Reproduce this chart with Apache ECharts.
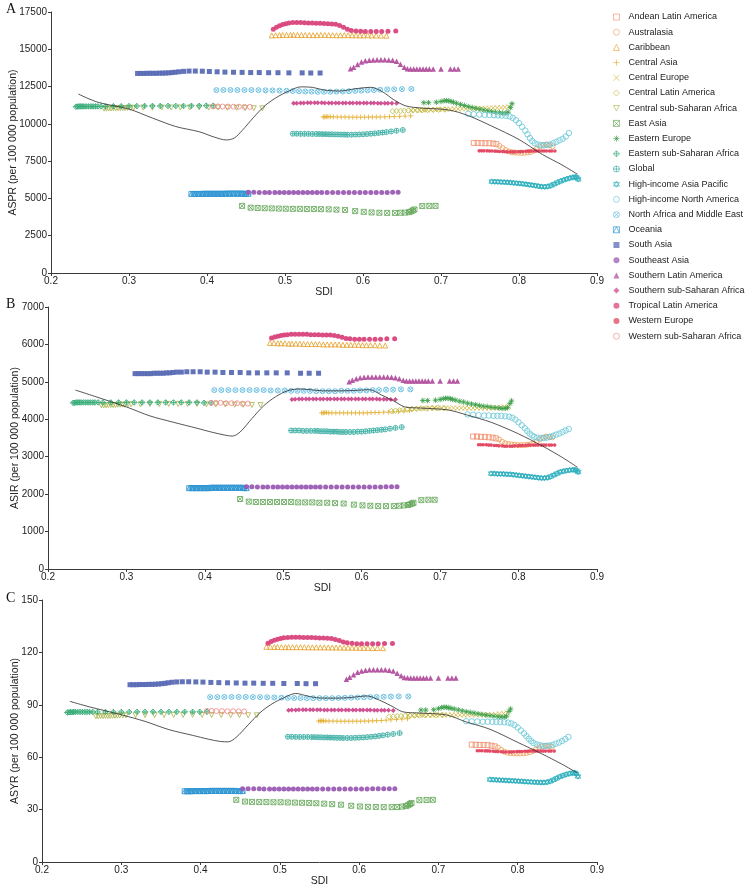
<!DOCTYPE html>
<html><head><meta charset="utf-8">
<script src="https://cdn.jsdelivr.net/npm/echarts@6/dist/echarts.min.js"></script>
<style>html,body{margin:0;padding:0;background:#fff}#c{width:750px;height:888px}</style>
</head><body><div id="c"></div>
<script>
const regions = ['Andean Latin America','Australasia','Caribbean','Central Asia','Central Europe','Central Latin America','Central sub-Saharan Africa','East Asia','Eastern Europe','Eastern sub-Saharan Africa','Global','High-income Asia Pacific','High-income North America','North Africa and Middle East','Oceania','South Asia','Southeast Asia','Southern Latin America','Southern sub-Saharan Africa','Tropical Latin America','Western Europe','Western sub-Saharan Africa'];

const SDI = [
[0.742,0.747,0.752,0.757,0.762,0.767,0.771],
[0.775,0.779,0.783,0.787,0.791,0.795,0.799,0.803,0.807,0.811,0.815,0.819,0.823,0.827,0.831,0.835,0.839,0.843],
[0.483,0.488,0.493,0.497,0.502,0.507,0.511,0.516,0.521,0.526,0.531,0.536,0.541,0.546,0.551,0.556,0.561,0.566,0.571,0.576,0.581,0.586,0.591,0.596,0.601,0.606,0.611,0.617,0.623,0.630],
[0.549,0.551,0.553,0.555,0.558,0.562,0.567,0.572,0.577,0.582,0.587,0.592,0.597,0.602,0.607,0.612,0.617,0.622,0.628,0.634,0.640,0.647,0.654,0.661],
[0.662,0.667,0.672,0.677,0.682,0.687,0.692,0.697,0.702,0.707,0.712,0.717,0.722,0.727,0.732,0.737,0.742,0.747,0.752,0.757,0.762,0.767,0.772,0.777,0.782,0.787],
[0.638,0.643,0.648,0.653,0.658,0.664,0.670,0.676,0.683,0.690,0.697,0.705],
[0.268,0.271,0.274,0.277,0.280,0.283,0.286,0.289,0.292,0.295,0.298,0.302,0.306,0.318,0.330,0.342,0.354,0.366,0.378,0.390,0.402,0.414,0.426,0.438,0.449,0.460,0.471],
[0.445,0.456,0.465,0.474,0.483,0.492,0.501,0.510,0.519,0.528,0.537,0.546,0.556,0.566,0.577,0.590,0.601,0.611,0.621,0.631,0.641,0.648,0.654,0.659,0.662,0.664,0.666,0.676,0.685,0.693],
[0.678,0.684,0.694,0.700,0.704,0.707,0.710,0.713,0.716,0.720,0.725,0.730,0.735,0.740,0.745,0.750,0.755,0.760,0.765,0.770,0.775,0.779,0.783,0.786,0.789,0.791],
[0.232,0.234,0.236,0.238,0.240,0.242,0.245,0.248,0.251,0.254,0.257,0.260,0.264,0.270,0.280,0.290,0.300,0.310,0.320,0.330,0.340,0.350,0.360,0.370,0.380,0.390,0.399,0.408],
[0.510,0.515,0.520,0.525,0.530,0.535,0.540,0.544,0.548,0.552,0.556,0.560,0.564,0.568,0.572,0.576,0.580,0.585,0.590,0.595,0.600,0.605,0.610,0.615,0.620,0.625,0.630,0.636,0.643,0.651],
[0.765,0.769,0.773,0.777,0.781,0.785,0.789,0.793,0.797,0.801,0.805,0.809,0.813,0.817,0.821,0.825,0.829,0.833,0.837,0.841,0.845,0.849,0.853,0.857,0.861,0.865,0.869,0.872,0.874,0.876],
[0.735,0.742,0.749,0.756,0.762,0.768,0.773,0.778,0.783,0.788,0.792,0.796,0.800,0.804,0.808,0.811,0.814,0.817,0.820,0.824,0.828,0.832,0.836,0.840,0.844,0.848,0.852,0.856,0.860,0.864],
[0.412,0.421,0.430,0.439,0.448,0.457,0.466,0.475,0.484,0.493,0.502,0.510,0.518,0.526,0.534,0.542,0.550,0.558,0.566,0.574,0.582,0.590,0.598,0.606,0.614,0.622,0.631,0.640,0.650,0.662],
[0.380,0.383,0.385,0.388,0.390,0.393,0.395,0.398,0.400,0.403,0.405,0.408,0.410,0.413,0.415,0.418,0.420,0.423,0.425,0.428,0.430,0.433,0.435,0.438,0.440,0.443,0.445,0.448,0.450,0.453],
[0.311,0.315,0.319,0.323,0.327,0.331,0.335,0.339,0.343,0.347,0.351,0.355,0.359,0.364,0.370,0.377,0.385,0.394,0.403,0.413,0.423,0.434,0.445,0.456,0.467,0.479,0.491,0.505,0.522,0.533,0.545],
[0.453,0.460,0.467,0.474,0.480,0.487,0.493,0.499,0.505,0.511,0.517,0.523,0.529,0.535,0.541,0.547,0.554,0.561,0.568,0.575,0.582,0.589,0.596,0.603,0.610,0.617,0.624,0.631,0.638,0.645],
[0.584,0.588,0.593,0.598,0.603,0.608,0.613,0.618,0.623,0.628,0.633,0.638,0.643,0.648,0.653,0.657,0.661,0.665,0.669,0.673,0.677,0.681,0.685,0.690,0.700,0.712,0.717,0.722],
[0.511,0.515,0.520,0.524,0.529,0.533,0.538,0.542,0.547,0.551,0.556,0.560,0.565,0.569,0.574,0.578,0.583,0.587,0.592,0.596,0.601,0.605,0.610,0.614,0.619,0.623,0.628,0.632,0.637,0.643],
[0.485,0.489,0.493,0.497,0.501,0.505,0.510,0.515,0.520,0.525,0.530,0.535,0.540,0.545,0.550,0.555,0.560,0.565,0.570,0.575,0.580,0.585,0.591,0.597,0.603,0.610,0.617,0.624,0.632,0.642],
[0.749,0.752,0.755,0.759,0.762,0.765,0.769,0.772,0.775,0.779,0.782,0.785,0.789,0.792,0.795,0.799,0.802,0.805,0.809,0.812,0.815,0.819,0.822,0.825,0.829,0.832,0.835,0.839,0.842,0.846],
[0.408,0.414,0.420,0.427,0.434,0.441,0.448,0.455]
];

const ASPR = [
[8720,8720,8710,8700,8700,8680,8640],
[8520,8380,8240,8150,8100,8080,8060,8050,8060,8080,8120,8200,8330,8480,8580,8620,8560,8500],
[15930,15940,15950,15960,15960,15970,15970,15960,15960,15960,15950,15950,15950,15960,15960,15950,15950,15940,15940,15950,15950,15940,15940,15930,15930,15940,15930,15920,15920,15910],
[10460,10470,10480,10480,10470,10470,10460,10460,10460,10450,10450,10450,10450,10450,10450,10460,10460,10460,10470,10480,10490,10500,10520,10540],
[10900,10910,10920,10930,10940,10950,10960,10970,10980,10990,10990,11000,11000,11010,11010,11020,11020,11030,11040,11050,11060,11070,11080,11090,11110,11130],
[10850,10860,10870,10880,10890,10900,10910,10920,10930,10940,10950,10960],
[11020,11020,11030,11030,11040,11040,11050,11050,11060,11060,11070,11070,11080,11090,11090,11100,11100,11100,11100,11100,11100,11090,11080,11070,11060,11050,11040],
[4500,4380,4360,4340,4330,4320,4310,4300,4300,4290,4290,4280,4270,4250,4230,4150,4100,4060,4040,4030,4030,4040,4050,4080,4130,4200,4260,4490,4500,4500],
[11420,11420,11450,11500,11550,11560,11540,11500,11450,11380,11300,11230,11160,11100,11040,10980,10920,10870,10820,10780,10750,10720,10720,10780,11100,11350],
[11150,11160,11170,11170,11170,11170,11170,11170,11170,11170,11170,11170,11170,11170,11180,11180,11190,11190,11200,11200,11200,11200,11200,11200,11210,11210,11220,11220],
[9340,9340,9330,9330,9330,9320,9320,9320,9310,9310,9300,9300,9290,9290,9280,9280,9270,9270,9280,9290,9300,9320,9340,9360,9390,9420,9450,9490,9540,9590],
[6130,6120,6110,6100,6090,6080,6060,6040,6020,6000,5980,5950,5920,5890,5860,5820,5790,5780,5800,5860,5960,6060,6150,6230,6300,6360,6410,6440,6400,6280],
[10680,10650,10620,10600,10590,10580,10570,10560,10540,10500,10400,10250,10050,9800,9550,9300,9050,8850,8700,8620,8580,8560,8580,8620,8700,8800,8900,9000,9150,9380],
[12260,12270,12270,12270,12270,12270,12260,12250,12240,12230,12220,12200,12190,12170,12160,12150,12150,12150,12160,12170,12190,12210,12230,12250,12270,12290,12310,12320,12330,12340],
[5300,5300,5300,5300,5300,5300,5310,5310,5310,5310,5310,5310,5310,5310,5310,5310,5310,5310,5320,5320,5320,5320,5320,5320,5320,5320,5320,5310,5310,5310],
[13380,13380,13380,13390,13390,13390,13390,13400,13400,13410,13420,13440,13460,13490,13520,13540,13540,13530,13510,13490,13470,13460,13450,13440,13440,13430,13430,13420,13420,13410,13410],
[5410,5410,5405,5400,5400,5400,5400,5400,5400,5400,5400,5400,5400,5400,5400,5400,5400,5400,5400,5400,5400,5400,5400,5400,5400,5400,5405,5405,5410,5410],
[13700,13800,13980,14150,14230,14260,14280,14290,14290,14290,14280,14270,14200,14000,13800,13700,13680,13670,13670,13670,13670,13670,13670,13670,13670,13680,13680,13680],
[11380,11390,11400,11400,11410,11410,11410,11410,11410,11400,11400,11400,11400,11400,11400,11400,11400,11400,11400,11400,11400,11400,11400,11400,11390,11390,11390,11390,11380,11380],
[16350,16480,16580,16660,16720,16760,16790,16800,16790,16780,16770,16760,16750,16740,16730,16720,16700,16680,16600,16480,16340,16260,16230,16210,16200,16200,16200,16200,16210,16220],
[8190,8190,8190,8190,8180,8180,8170,8160,8150,8140,8130,8120,8120,8120,8120,8130,8140,8150,8160,8170,8170,8180,8180,8180,8180,8180,8180,8180,8180,8180],
[11170,11170,11160,11160,11150,11150,11140,11140]
];

const ASIR = [
[3540,3540,3530,3530,3520,3510,3490],
[3460,3400,3360,3340,3330,3320,3310,3310,3310,3320,3330,3350,3400,3460,3510,3540,3530,3520],
[6040,6040,6030,6030,6030,6020,6020,6020,6020,6010,6010,6010,6010,6010,6000,6000,6000,6000,6000,5990,5990,5990,5990,5990,5980,5980,5980,5980,5970,5970],
[4170,4170,4180,4180,4170,4170,4170,4170,4170,4170,4170,4170,4170,4170,4170,4180,4180,4180,4190,4190,4200,4210,4220,4230],
[4280,4280,4290,4290,4290,4300,4300,4300,4300,4300,4300,4300,4300,4300,4300,4300,4300,4300,4300,4300,4300,4310,4310,4320,4330,4340],
[4220,4230,4240,4250,4260,4270,4280,4290,4290,4300,4300,4300],
[4370,4370,4370,4380,4380,4380,4380,4390,4390,4390,4390,4400,4400,4400,4410,4410,4410,4410,4410,4410,4400,4400,4400,4390,4390,4380,4380],
[1870,1800,1790,1790,1790,1790,1790,1790,1780,1780,1780,1770,1770,1760,1750,1720,1700,1690,1680,1680,1680,1690,1700,1710,1730,1750,1770,1840,1850,1850],
[4500,4500,4510,4530,4550,4560,4560,4550,4530,4510,4480,4460,4430,4410,4390,4370,4350,4340,4320,4310,4300,4290,4290,4310,4420,4490],
[4440,4440,4450,4450,4450,4450,4450,4450,4450,4450,4450,4450,4450,4450,4450,4450,4450,4450,4450,4450,4450,4450,4450,4450,4450,4450,4440,4440],
[3700,3700,3700,3690,3690,3690,3690,3690,3680,3680,3680,3670,3670,3670,3660,3660,3660,3660,3660,3670,3670,3680,3690,3700,3710,3720,3730,3750,3770,3790],
[2550,2550,2540,2540,2540,2530,2530,2520,2510,2500,2490,2480,2470,2460,2450,2440,2430,2430,2440,2470,2510,2550,2590,2610,2630,2640,2650,2650,2630,2590],
[4130,4120,4110,4100,4100,4090,4090,4090,4080,4070,4040,3990,3920,3840,3760,3690,3620,3570,3530,3510,3500,3500,3510,3530,3560,3590,3620,3660,3700,3740],
[4780,4780,4780,4780,4780,4780,4780,4780,4770,4770,4770,4760,4760,4760,4760,4750,4750,4750,4750,4760,4760,4760,4770,4770,4780,4780,4790,4790,4800,4800],
[2160,2160,2160,2160,2160,2160,2160,2160,2160,2160,2160,2170,2170,2170,2170,2170,2170,2170,2170,2170,2170,2170,2170,2170,2170,2170,2170,2170,2160,2160],
[5220,5220,5220,5220,5220,5220,5230,5230,5230,5230,5240,5240,5250,5260,5260,5270,5270,5270,5260,5260,5250,5250,5250,5240,5240,5240,5240,5240,5230,5230,5230],
[2195,2195,2190,2190,2190,2190,2190,2190,2190,2190,2190,2190,2190,2190,2190,2190,2190,2190,2190,2190,2190,2190,2190,2190,2190,2190,2190,2195,2195,2195],
[5000,5040,5080,5110,5120,5130,5130,5130,5130,5130,5130,5120,5110,5080,5040,5020,5020,5020,5020,5020,5020,5020,5020,5020,5020,5020,5020,5020],
[4530,4535,4540,4540,4545,4545,4545,4545,4545,4545,4540,4540,4540,4540,4540,4540,4540,4540,4540,4540,4540,4540,4540,4540,4540,4535,4535,4535,4530,4530],
[6170,6200,6220,6240,6250,6260,6270,6270,6270,6270,6270,6260,6260,6260,6250,6250,6250,6240,6220,6190,6160,6150,6140,6140,6140,6140,6140,6140,6150,6150],
[3320,3320,3320,3320,3310,3310,3300,3300,3290,3290,3280,3280,3280,3280,3290,3290,3300,3300,3300,3310,3310,3310,3310,3310,3310,3310,3310,3310,3310,3310],
[4440,4440,4440,4430,4430,4430,4420,4420]
];

const ASYR = [
[67.2,67.1,67.0,67.0,66.9,66.6,66.2],
[65.5,64.2,63.2,62.6,62.3,62.2,62.1,62.1,62.2,62.4,62.8,63.5,64.5,65.6,66.3,66.6,66.3,66.0],
[123.2,123.2,123.1,123.1,123.0,123.0,123.0,123.0,123.0,123.0,123.0,122.9,122.9,122.9,122.9,122.9,122.8,122.8,122.8,122.8,122.7,122.7,122.7,122.7,122.6,122.6,122.6,122.5,122.5,122.4],
[80.7,80.8,80.8,80.8,80.7,80.7,80.7,80.6,80.6,80.6,80.6,80.6,80.6,80.6,80.7,80.7,80.8,80.9,81.0,81.2,81.4,81.6,81.8,82.0],
[84.0,84.0,84.1,84.1,84.1,84.2,84.2,84.2,84.2,84.2,84.2,84.2,84.2,84.2,84.2,84.2,84.2,84.2,84.3,84.3,84.4,84.5,84.6,84.8,85.0,85.3],
[83.2,83.3,83.4,83.5,83.6,83.7,83.8,83.9,84.0,84.1,84.1,84.2],
[83.4,83.4,83.5,83.5,83.6,83.6,83.6,83.7,83.7,83.8,83.8,83.9,83.9,84.0,84.1,84.1,84.2,84.2,84.2,84.2,84.2,84.2,84.2,84.1,84.1,84.0,84.0],
[35.6,34.6,34.4,34.3,34.3,34.2,34.2,34.1,34.0,33.9,33.8,33.6,33.4,33.1,32.8,32.2,31.8,31.6,31.5,31.4,31.4,31.5,31.7,32.0,32.5,33.2,33.8,35.4,35.5,35.6],
[87.0,87.0,87.2,87.8,88.4,88.6,88.6,88.3,88.0,87.6,87.1,86.6,86.1,85.7,85.3,84.9,84.5,84.1,83.8,83.5,83.2,83.0,83.0,83.5,86.2,87.6],
[85.6,85.7,85.8,85.8,85.9,85.9,85.9,85.9,85.9,85.9,85.9,85.9,85.9,85.9,85.9,85.9,85.9,85.9,86.0,86.0,86.0,86.0,86.0,86.0,86.0,86.0,86.0,86.0],
[71.7,71.7,71.6,71.6,71.6,71.6,71.5,71.5,71.4,71.4,71.3,71.3,71.2,71.2,71.1,71.1,71.0,71.0,71.0,71.1,71.2,71.3,71.5,71.7,71.9,72.2,72.5,72.9,73.3,73.8],
[47.2,47.1,47.0,46.9,46.8,46.7,46.6,46.5,46.4,46.3,46.2,46.0,45.9,45.8,45.7,45.6,45.5,45.5,45.7,46.2,47.0,47.9,48.8,49.5,50.1,50.6,51.0,51.1,50.4,49.0],
[80.6,80.5,80.4,80.3,80.3,80.2,80.2,80.1,80.0,79.8,79.3,78.4,77.0,75.3,73.6,72.0,70.5,69.2,68.1,67.3,66.8,66.5,66.5,66.7,67.1,67.7,68.4,69.3,70.4,71.6],
[94.4,94.4,94.5,94.5,94.5,94.5,94.4,94.4,94.3,94.2,94.1,94.0,93.9,93.9,93.8,93.8,93.8,93.8,93.8,93.9,94.0,94.1,94.2,94.3,94.4,94.5,94.6,94.7,94.8,94.8],
[40.5,40.5,40.5,40.5,40.6,40.6,40.6,40.6,40.6,40.6,40.6,40.6,40.6,40.7,40.7,40.7,40.7,40.7,40.7,40.7,40.7,40.7,40.7,40.7,40.7,40.7,40.6,40.6,40.6,40.6],
[101.5,101.5,101.5,101.6,101.6,101.6,101.7,101.7,101.8,101.9,102.1,102.3,102.6,102.9,103.1,103.2,103.2,103.1,103.0,102.8,102.7,102.6,102.5,102.4,102.4,102.3,102.3,102.2,102.2,102.1,102.1],
[41.9,41.9,41.9,41.9,41.8,41.8,41.8,41.8,41.8,41.8,41.8,41.8,41.8,41.8,41.8,41.8,41.8,41.8,41.8,41.8,41.8,41.8,41.8,41.8,41.8,41.9,41.9,41.9,41.9,41.9],
[104.6,105.8,107.2,108.6,109.4,109.8,110.0,110.1,110.1,110.1,110.0,109.8,109.3,108.0,106.6,105.7,105.5,105.4,105.3,105.3,105.3,105.3,105.3,105.3,105.3,105.4,105.4,105.4],
[86.9,87.0,87.0,87.1,87.1,87.1,87.1,87.1,87.1,87.1,87.0,87.0,87.0,87.0,87.0,87.0,87.0,87.0,87.0,87.0,87.0,87.0,87.0,87.0,86.9,86.9,86.9,86.9,86.9,86.8],
[125.2,126.2,127.0,127.6,128.0,128.4,128.6,128.7,128.7,128.7,128.6,128.6,128.5,128.4,128.3,128.2,128.1,127.9,127.4,126.8,126.0,125.5,125.2,125.0,125.0,125.0,125.0,125.0,125.1,125.1],
[63.7,63.7,63.7,63.6,63.6,63.5,63.4,63.3,63.2,63.1,63.0,63.0,63.0,63.0,63.1,63.2,63.3,63.3,63.4,63.4,63.5,63.5,63.5,63.5,63.5,63.5,63.5,63.5,63.5,63.5],
[86.5,86.5,86.4,86.4,86.3,86.3,86.2,86.2]
];

const curveSDI  = [0.235,0.26,0.30,0.33,0.36,0.39,0.41,0.425,0.435,0.445,0.46,0.475,0.49,0.505,0.52,0.535,0.55,0.57,0.59,0.61,0.625,0.64,0.655,0.675,0.71,0.735,0.765,0.80,0.83,0.855,0.875];
const curveASPR = [12000,11450,10990,10390,9820,9470,9100,8920,9050,9550,10450,11250,11800,12200,12480,12450,12270,12200,12350,12450,12150,11600,11200,11060,10930,10550,9850,8950,7950,7250,6620];
const curveASIR = [4780,4610,4330,4090,3920,3760,3650,3580,3550,3660,4020,4360,4600,4760,4810,4790,4760,4760,4770,4790,4650,4500,4330,4300,4250,4110,3920,3610,3290,2990,2720];
const curveASYR = [92.0,88.8,84.3,80.5,75.8,72.5,70.3,69.0,68.8,71.4,78.5,85.5,90.5,94.0,96.5,95.0,93.9,93.8,94.2,95.1,92.8,89.5,86.0,85.3,84.2,80.2,76.0,68.5,62.0,56.2,51.0];

const colors = ['#F0906E','#EFA25E','#E6A532','#E3AE2E','#D2B845','#C0BE4C','#AEB652','#66A85A','#3A9E48','#38AD7A','#3DAFA5','#2FB0BE','#6CC8D8','#5BB8DE','#2E95D2','#5A6CB5','#9A5CB4','#B2509E','#CE4A8E','#D9447C','#E2435F','#EE8A8A'];

const P = {
  plus:'path://M5,0L5,10M0,5L10,5',
  cross:'path://M0,0L10,10M10,0L0,10',
  sqx:'path://M0,0L10,0L10,10L0,10ZM0,0L10,10M10,0L0,10',
  star:'path://M5,0L5,10M0,5L10,5M1.5,1.5L8.5,8.5M8.5,1.5L1.5,8.5',
  dplus:'path://M5,0L10,5L5,10L0,5ZM5,0L5,10M0,5L10,5',
  cplus:'path://M0,5A5,5,0,1,1,10,5A5,5,0,1,1,0,5ZM5,0L5,10M0,5L10,5',
  david:'path://M5,0L10,8L0,8ZM5,10L0,2L10,2Z',
  cx:'path://M0,5A5,5,0,1,1,10,5A5,5,0,1,1,0,5ZM1.5,1.5L8.5,8.5M8.5,1.5L1.5,8.5',
  sqtri:'path://M0,0L10,0L10,10L0,10ZM0,10L5,0L10,10',
  dtri:'path://M0,0L10,0L5,9Z'
};
// [symbol, filled, size]
const marks = [
  ['rect',0,5],['circle',0,5],['triangle',0,5],[P.plus,0,5],[P.cross,0,5],['diamond',0,5.5],
  [P.dtri,0,5],[P.sqx,0,5],[P.star,0,5.5],[P.dplus,0,5.5],[P.cplus,0,5],[P.david,0,5.5],
  ['circle',0,5.5],[P.cx,0,5],[P.sqtri,0,5],['rect',1,5],['circle',1,5],['triangle',1,5.5],
  ['diamond',1,5],['circle',1,5],['circle',1,3.6],['circle',0,5]
];

const measures = [ASPR, ASIR, ASYR];
const curves = [curveASPR, curveASIR, curveASYR];

function styleFor(i, op){
  const c = colors[i];
  return marks[i][1] ? {color:c, opacity:op} : {color:'rgba(255,255,255,0)', borderColor:c, borderWidth:0.9, opacity:op};
}

const series = [];
for (let p = 0; p < 3; p++) {
  regions.forEach((name, i) => {
    const m = marks[i];
    series.push({
      type:'scatter', name, xAxisIndex:p, yAxisIndex:p,
      symbol:m[0], symbolSize:m[2],
      itemStyle: styleFor(i, 0.95),
      emphasis:{disabled:true},
      data: SDI[i].map((x,k)=>[x, measures[p][i][k]])
    });
  });
  series.push({
    type:'line', name:'Expected', xAxisIndex:p, yAxisIndex:p, smooth:0.3, symbol:'none',
    lineStyle:{color:'#2b2b2b', width:0.8}, z:5, silent:true,
    data: curveSDI.map((x,k)=>[x, curves[p][k]])
  });
}

const legendData = regions.map((name, i) => ({
  name, icon: marks[i][0],
  itemStyle: marks[i][1] ? {color:colors[i], opacity:0.75, borderWidth:0}
                         : {color:'rgba(255,255,255,0)', borderColor:colors[i], borderWidth:0.9, opacity:0.75}
}));

const axisCol = '#3a3a3a';
const grids = [
  {left:51, right:153, top:12, height:261, outerBoundsMode:'none', containLabel:false},
  {left:48, right:153, top:307, height:262, outerBoundsMode:'none', containLabel:false},
  {left:42, right:153, top:600, height:262, outerBoundsMode:'none', containLabel:false}
];
const yNames = ['ASPR (per 100 000 population)','ASIR (per 100 000 population)','ASYR (per 100 000 population)'];
const yMax = [17500, 7000, 150];
const yInt = [2500, 1000, 30];
const yGap = [32, 27, 21];

const font = 'Liberation Sans, Arial, sans-serif';
const xAxes = grids.map((g,i)=>({
  type:'value', gridIndex:i, min:0.2, max:0.9, interval:0.1,
  name:'SDI', nameLocation:'middle', nameGap:14, nameMoveOverlap:false,
  nameTextStyle:{fontSize:10.5, color:'#222', fontFamily:font},
  axisLine:{show:true, lineStyle:{color:axisCol, width:1}},
  axisTick:{show:true, length:3, lineStyle:{color:axisCol}},
  axisLabel:{fontSize:10, color:'#222', margin:3, fontFamily:font, formatter:v=>v.toFixed(1)},
  splitLine:{show:false}
}));
const yAxes = grids.map((g,i)=>({
  type:'value', gridIndex:i, min:0, max:yMax[i], interval:yInt[i],
  name:yNames[i], nameLocation:'middle', nameGap:yGap[i], nameMoveOverlap:false,
  nameTextStyle:{fontSize:10.5, color:'#222', fontFamily:font},
  axisLine:{show:true, lineStyle:{color:axisCol, width:1}},
  axisTick:{show:true, length:3, lineStyle:{color:axisCol}},
  axisLabel:{fontSize:10, color:'#222', margin:4, fontFamily:font, formatter:v=>String(v)},
  splitLine:{show:false}
}));

const chart = echarts.init(document.getElementById('c'), null, {renderer:'canvas'});
chart.setOption({
  animation:false,
  backgroundColor:'#fff',
  grid: grids,
  xAxis: xAxes,
  yAxis: yAxes,
  legend:{
    orient:'vertical', left:613, top:12, padding:0, itemWidth:6, itemHeight:6, itemGap:5.2,
    data: legendData, selectedMode:false,
    textStyle:{fontSize:9, color:'#222', lineHeight:10, fontFamily:font, padding:[0,0,0,4]}
  },
  graphic:[
    {type:'text', left:6, top:2, style:{text:'A', font:'14px "Liberation Serif", "Times New Roman", serif', fill:'#111'}},
    {type:'text', left:6, top:297, style:{text:'B', font:'14px "Liberation Serif", "Times New Roman", serif', fill:'#111'}},
    {type:'text', left:6, top:591, style:{text:'C', font:'14px "Liberation Serif", "Times New Roman", serif', fill:'#111'}}
  ],
  series
});
</script>
</body></html>
